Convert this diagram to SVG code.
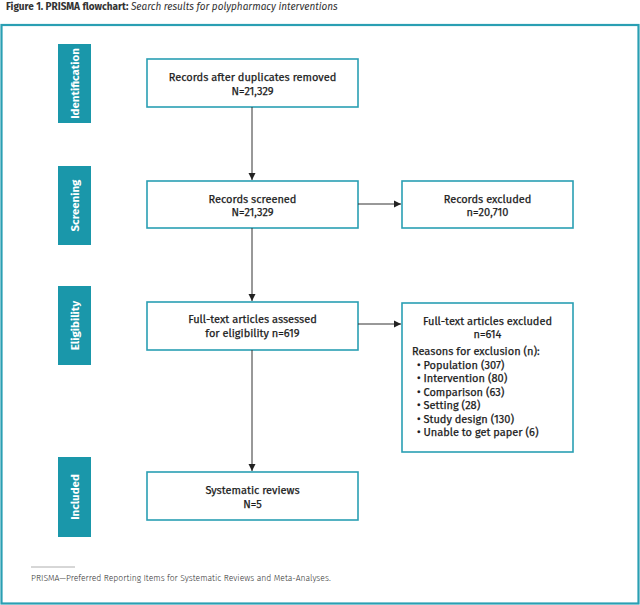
<svg xmlns="http://www.w3.org/2000/svg" width="640" height="605" viewBox="0 0 640 605">
<defs>
<style>
.t{font-family:"Fira Sans","Liberation Sans",Arial,sans-serif;font-size:11px;font-weight:400;fill:#1a1a1a;stroke:#1a1a1a;stroke-width:0.25;}
.c{text-anchor:middle;}
.box{fill:#fff;stroke:#2a9fb3;stroke-width:1.6;}
.tab{fill:#1a97aa;}
.tl{font-family:"Fira Sans","Liberation Sans",Arial,sans-serif;font-size:11.5px;font-weight:bold;fill:#fff;text-anchor:middle;}
.ln{stroke:#333;stroke-width:1;fill:none;}
</style>
<marker id="ah" markerWidth="8" markerHeight="8" refX="7" refY="4" orient="auto" markerUnits="userSpaceOnUse">
<path d="M0,0.5 L7,4 L0,7.5 Z" fill="#222"/>
</marker>
</defs>
<rect width="640" height="605" fill="#fff"/>
<text x="6" y="10" style="font-family:'Fira Sans','Liberation Sans',Arial,sans-serif;font-size:10px;fill:#333"><tspan font-weight="bold">Figure 1. PRISMA flowchart:</tspan><tspan font-style="italic"> Search results for polypharmacy interventions</tspan></text>
<rect x="1.5" y="25" width="637" height="578.5" fill="none" stroke="#2a9fb3" stroke-width="2.2"/>

<g id="tab-identification"><rect class="tab" x="58" y="44" width="33" height="79"/><text class="tl" transform="translate(78.5,83.5) rotate(-90)">Identification</text></g>
<g id="tab-screening"><rect class="tab" x="58" y="166" width="33" height="79"/><text class="tl" transform="translate(78.5,205.5) rotate(-90)">Screening</text></g>
<g id="tab-eligibility"><rect class="tab" x="58" y="286" width="33" height="79"/><text class="tl" transform="translate(78.5,325.5) rotate(-90)">Eligibility</text></g>
<g id="tab-included"><rect class="tab" x="58" y="457" width="33" height="80"/><text class="tl" transform="translate(78.5,497) rotate(-90)">Included</text></g>

<g id="n-records"><rect class="box" x="147" y="59" width="211" height="48"/>
<text class="t c" x="252.5" y="81">Records after duplicates removed</text>
<text class="t c" x="252.5" y="95">N=21,329</text></g>

<g id="n-screened"><rect class="box" x="147" y="181" width="211" height="47"/>
<text class="t c" x="252.5" y="203">Records screened</text>
<text class="t c" x="252.5" y="216">N=21,329</text></g>

<g id="n-excluded"><rect class="box" x="402" y="181" width="171" height="47"/>
<text class="t c" x="487.5" y="203">Records excluded</text>
<text class="t c" x="487.5" y="216">n=20,710</text></g>

<g id="n-fulltext"><rect class="box" x="147" y="302" width="211" height="48"/>
<text class="t c" x="252.5" y="323">Full-text articles assessed</text>
<text class="t c" x="252.5" y="337">for eligibility n=619</text></g>

<g id="n-ftexcluded"><rect class="box" x="402" y="303" width="171" height="149"/>
<text class="t c" x="487.5" y="325">Full-text articles excluded</text>
<text class="t c" x="487.5" y="338">n=614</text>
<text class="t" x="412" y="355">Reasons for exclusion (n):</text>
<text class="t" x="417" y="368.5">• Population (307)</text>
<text class="t" x="417" y="382">• Intervention (80)</text>
<text class="t" x="417" y="395.5">• Comparison (63)</text>
<text class="t" x="417" y="409">• Setting (28)</text>
<text class="t" x="417" y="422.5">• Study design (130)</text>
<text class="t" x="417" y="436">• Unable to get paper (6)</text></g>

<g id="n-included"><rect class="box" x="147" y="472" width="211" height="48"/>
<text class="t c" x="252.5" y="494">Systematic reviews</text>
<text class="t c" x="252.5" y="508">N=5</text></g>

<g id="connectors">
<line class="ln" x1="252" y1="107" x2="252" y2="180" marker-end="url(#ah)"/>
<line class="ln" x1="252" y1="228" x2="252" y2="301" marker-end="url(#ah)"/>
<line class="ln" x1="252" y1="350" x2="252" y2="471" marker-end="url(#ah)"/>
<line class="ln" x1="358" y1="204" x2="401" y2="204" marker-end="url(#ah)"/>
<line class="ln" x1="358" y1="324" x2="401" y2="324" marker-end="url(#ah)"/>
</g>

<line x1="31" y1="567" x2="75" y2="567" stroke="#999" stroke-width="0.8"/>
<text x="31" y="581" style="font-family:'Fira Sans','Liberation Sans',Arial,sans-serif;font-size:8.6px;font-weight:300;fill:#333">PRISMA—Preferred Reporting Items for Systematic Reviews and Meta-Analyses.</text>
</svg>
